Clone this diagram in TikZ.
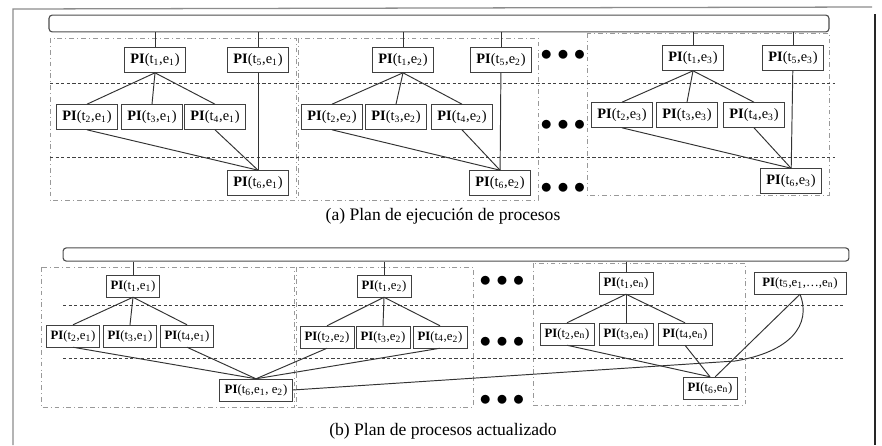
\documentclass[tikz,border=0pt]{standalone}
\usepackage{fontspec}
\setmainfont{Liberation Serif}
\usetikzlibrary{positioning,calc}

\newcommand{\pit}[2]{\textbf{PI}(t\textsubscript{#1},e\textsubscript{#2})}

\begin{document}
\begin{tikzpicture}[x=0.022cm,y=-0.022cm,font=\small,
  pia/.style={draw=black!75,fill=white,inner sep=1pt,minimum width=1.34cm,minimum height=0.55cm,font=\small},
  pib/.style={draw=black!75,fill=white,inner sep=1pt,minimum width=1.18cm,minimum height=0.48cm,font=\footnotesize},
  grp/.style={draw=black!40,dash dot,line width=0.4pt},
  lvl/.style={draw=black!75,dash pattern=on 2pt off 1.5pt,line width=0.6pt},
  arc/.style={draw=black!80,line width=0.6pt},
  bar/.style={draw=black!70,rounded corners=2pt,line width=0.7pt,inner sep=0pt},
  dots/.style={font=\Large,inner sep=0pt},
  captxt/.style={font=\fontsize{11}{13}\selectfont}]
\useasboundingbox (0,0) rectangle (882,445);
\draw[black!45,line width=0.8pt] (13,445) -- (13,9) -- (872,7);
\draw[black!85,line width=1.6pt] (875,14) -- (875,445);

\draw[grp] (50,38) rectangle (296,200);
\draw[grp] (298,38) rectangle (538,200);
\draw[grp] (587,33) rectangle (829,195);
\draw[lvl] (50,83) -- (835,83);
\draw[lvl] (50,157) -- (835,157);
\node[bar,minimum width=17.16cm,minimum height=0.37cm] (barA) at (439,23.5) {};

\node[pia] (a1t1) at (155,60) {\pit{1}{1}};
\node[pia] (a1t5) at (258,60) {\pit{5}{1}};
\node[pia] (a1t2) at (87,117) {\pit{2}{1}};
\node[pia] (a1t3) at (152,117) {\pit{3}{1}};
\node[pia] (a1t4) at (215,117) {\pit{4}{1}};
\node[pia] (a1t6) at (258,183) {\pit{6}{1}};
\node[pia] (a2t1) at (403,60) {\pit{1}{2}};
\node[pia] (a2t5) at (501,60) {\pit{5}{2}};
\node[pia] (a2t2) at (332,117) {\pit{2}{2}};
\node[pia] (a2t3) at (396,117) {\pit{3}{2}};
\node[pia] (a2t4) at (462,117) {\pit{4}{2}};
\node[pia] (a2t6) at (500,183) {\pit{6}{2}};
\node[pia] (a3t1) at (693,58) {\pit{1}{3}};
\node[pia] (a3t5) at (793,58) {\pit{5}{3}};
\node[pia] (a3t2) at (622,115) {\pit{2}{3}};
\node[pia] (a3t3) at (687,115) {\pit{3}{3}};
\node[pia] (a3t4) at (754,115) {\pit{4}{3}};
\node[pia] (a3t6) at (791,181) {\pit{6}{3}};
\node[dots] (dA1) at (563,55) {$\bullet\bullet\bullet$};
\node[dots] (dA2) at (563,125) {$\bullet\bullet\bullet$};
\node[dots] (dA3) at (563,188) {$\bullet\bullet\bullet$};

\draw[arc] (barA.south -| a1t1) -- (a1t1);\draw[arc] (barA.south -| a1t5) -- (a1t5);
\draw[arc] (barA.south -| a2t1) -- (a2t1);\draw[arc] (barA.south -| a2t5) -- (a2t5);
\draw[arc] (barA.south -| a3t1) -- (a3t1);\draw[arc] (barA.south -| a3t5) -- (a3t5);
\draw[arc] (a1t1.south) -- (a1t2.north);\draw[arc] (a1t1.south) -- (a1t3.north);\draw[arc] (a1t1.south) -- (a1t4.north);
\draw[arc] (a1t2.south) -- (a1t6.north);\draw[arc] (a1t4.south) -- (a1t6.north);\draw[arc] (a1t5) -- (a1t6);
\draw[arc] (a2t1.south) -- (a2t2.north);\draw[arc] (a2t1.south) -- (a2t3.north);\draw[arc] (a2t1.south) -- (a2t4.north);
\draw[arc] (a2t2.south) -- (a2t6.north);\draw[arc] (a2t4.south) -- (a2t6.north);\draw[arc] (a2t5) -- (a2t6);
\draw[arc] (a3t1.south) -- (a3t2.north);\draw[arc] (a3t1.south) -- (a3t3.north);\draw[arc] (a3t1.south) -- (a3t4.north);
\draw[arc] (a3t2.south) -- (a3t6.north);\draw[arc] (a3t4.south) -- (a3t6.north);\draw[arc] (a3t5) -- (a3t6);
\node[captxt] (capA) at (443,216) {(a) Plan de ejecución de procesos};

\draw[grp] (41,267) rectangle (294,407);
\draw[grp] (296,267) rectangle (473,407);
\draw[grp] (533,263) rectangle (745,405);
\draw[lvl] (63,305) -- (845,305);
\draw[lvl] (63,358) -- (845,358);
\node[bar,minimum width=17.29cm,minimum height=0.29cm] (barB) at (456,254.5) {};

\node[pib] (b1t1) at (133,286) {\pit{1}{1}};
\node[pib] (b1t2) at (73,336) {\pit{2}{1}};
\node[pib] (b1t3) at (130,336) {\pit{3}{1}};
\node[pib] (b1t4) at (187,336) {\pit{4}{1}};
\node[pib,minimum width=1.6cm] (b1t6) at (256,390) {\textbf{PI}(t\textsubscript{6},e\textsubscript{1}, e\textsubscript{2})};
\node[pib] (b2t1) at (384,286) {\pit{1}{2}};
\node[pib] (b2t2) at (327,337) {\pit{2}{2}};
\node[pib] (b2t3) at (383,337) {\pit{3}{2}};
\node[pib] (b2t4) at (440,337) {\pit{4}{2}};
\node[pib] (b3t1) at (626,283) {\pit{1}{n}};
\node[pib] (b3t2) at (567,334) {\pit{2}{n}};
\node[pib] (b3t3) at (626,334) {\pit{3}{n}};
\node[pib] (b3t4) at (685,334) {\pit{4}{n}};
\node[pib] (b3t6) at (710,388) {\pit{6}{n}};
\node[pib,minimum width=2.02cm] (b3t5) at (800,283) {\textbf{PI}(t\textsubscript{5},e\textsubscript{1},\ldots,e\textsubscript{n})};
\node[dots] (dB1) at (502,281) {$\bullet\bullet\bullet$};
\node[dots] (dB2) at (502,342) {$\bullet\bullet\bullet$};
\node[dots] (dB3) at (502,400) {$\bullet\bullet\bullet$};
\coordinate (turn) at (735,361);

\draw[arc] (barB.south -| b1t1) -- (b1t1);\draw[arc] (barB.south -| b2t1) -- (b2t1);\draw[arc] (barB.south -| b3t1) -- (b3t1);
\draw[arc] (b1t1.south) -- (b1t2.north);\draw[arc] (b1t1.south) -- (b1t3.north);\draw[arc] (b1t1.south) -- (b1t4.north);
\draw[arc] (b2t1.south) -- (b2t2.north);\draw[arc] (b2t1.south) -- (b2t3.north);\draw[arc] (b2t1.south) -- (b2t4.north);
\draw[arc] (b3t1.south) -- (b3t2.north);\draw[arc] (b3t1.south) -- (b3t3.north);\draw[arc] (b3t1.south) -- (b3t4.north);
\draw[arc] (b1t2.south) -- (b1t6.north);\draw[arc] (b1t4.south) -- (b1t6.north);
\draw[arc] (b2t2.south) -- (b1t6.north);\draw[arc] (b2t4.south) -- (b1t6.north);
\draw[arc] (b3t2.south) -- (b3t6.north);\draw[arc] (b3t4.south) -- (b3t6.north);
\draw[arc] (b3t6.65) -- (b3t5.south);
\draw[arc] (b1t6.east) -- (turn) .. controls (790,352) and (812,325) .. (b3t5.south);
\node[captxt] (capB) at (443,431) {(b) Plan de procesos actualizado};
\end{tikzpicture}
\end{document}
